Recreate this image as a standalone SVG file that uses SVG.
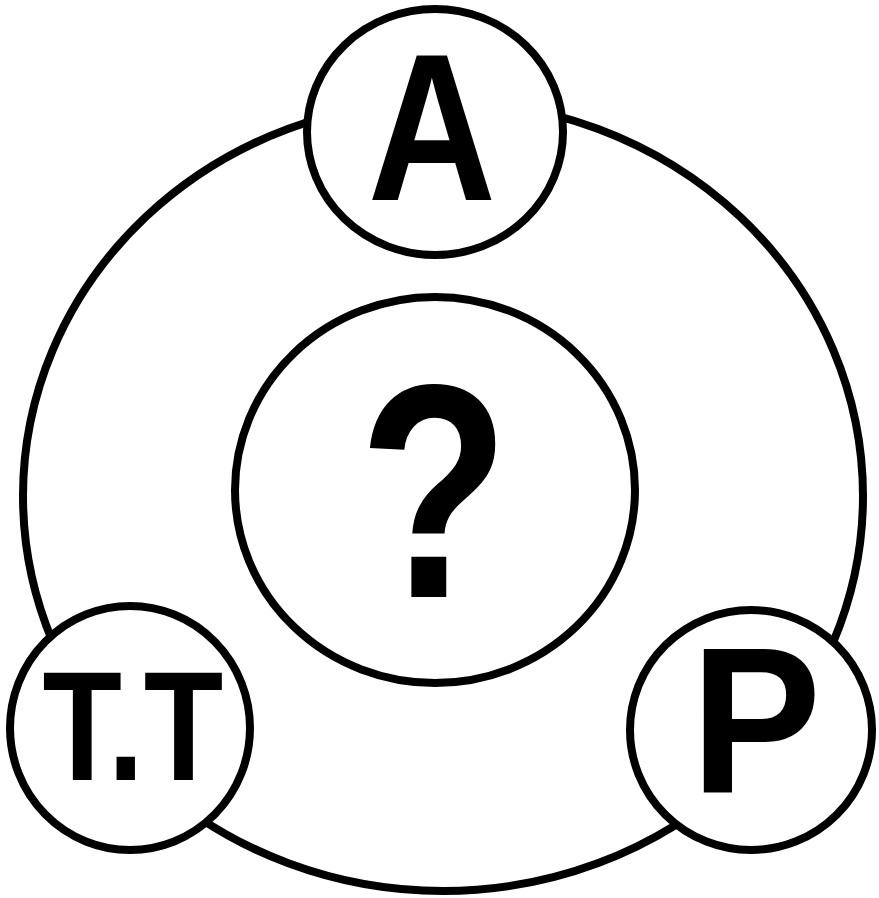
<svg xmlns="http://www.w3.org/2000/svg" width="879" height="898" viewBox="0 0 879 898">
<style>
.ring{fill:none;stroke:#000;stroke-width:8}
.node{fill:#fff;stroke:#000;stroke-width:8}
.lbl{font-family:"Liberation Sans",Arial,sans-serif;font-weight:bold;fill:#000;text-anchor:middle}
</style>
<rect width="879" height="898" fill="#fff"/>
<g id="connectors">
<ellipse class="ring" cx="443" cy="496" rx="420" ry="395"/>
</g>
<g id="node-center">
<ellipse class="node" cx="435" cy="490" rx="200" ry="193"/>
<text class="lbl" font-size="305" transform="translate(434,597) scale(0.81,1)">?</text>
</g>
<g id="node-A">
<ellipse class="node" cx="435" cy="132" rx="128" ry="123"/>
<text class="lbl" font-size="209" transform="translate(432,200) scale(0.85,1)">A</text>
</g>
<g id="node-TT">
<ellipse class="node" cx="130" cy="728" rx="120" ry="122"/>
<text class="lbl" font-size="155" transform="translate(133,780) scale(0.84,1)">T.T</text>
</g>
<g id="node-P">
<ellipse class="node" cx="751" cy="730" rx="121" ry="120"/>
<text class="lbl" font-size="208" transform="translate(756,792) scale(0.94,1)">P</text>
</g>
</svg>
